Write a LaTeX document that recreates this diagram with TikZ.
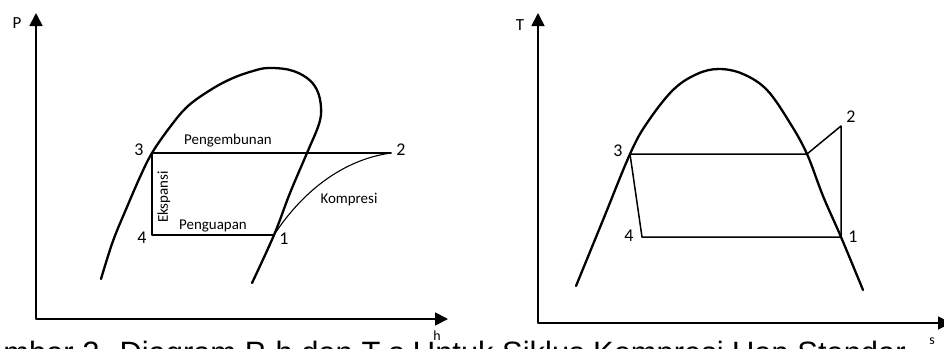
\documentclass[tikz,border=0pt]{standalone}
\usepackage{fontspec}
\setmainfont{Carlito}
\newfontfamily\capfont{Liberation Sans}
\usetikzlibrary{arrows.meta}

\begin{document}
\begin{tikzpicture}[x=1bp,y=-1bp,line cap=round,line join=round,
  dome/.style={line width=2.3bp},
  proc/.style={line width=1.5bp},
  axis/.style={line width=1.7bp,line cap=butt,
    {Triangle[length=13bp,width=13bp]}-{Triangle[length=13bp,width=13bp]}},
  num/.style={font=\fontsize{18}{20}\selectfont,inner sep=1pt},
  lbl/.style={font=\fontsize{15}{17}\selectfont,inner sep=1pt}]
  \useasboundingbox (0,0) rectangle (944,348);
  \clip (0,0) rectangle (944,348);
  % P-h diagram
  \coordinate (pO) at (36,319);
  \coordinate (pP) at (36,13);
  \coordinate (pH) at (448,319);
  \draw[axis] (pP) -- (pO) -- (pH);
  \coordinate (p1) at (274,235);
  \coordinate (p2) at (391,153);
  \coordinate (p3) at (152,153);
  \coordinate (p4) at (152,235);
  \draw[dome] plot[smooth,tension=0.6] coordinates {(101,279) (113,241) (127,207) (140,177) (p3)
    (170,127) (188,106) (212,89) (233,78) (253,71) (268,68) (290,70) (307,78) (317,90)
    (321,107) (319,124) (307,153) (290,193) (p1) (252,283)};
  \draw[proc] (p2) -- (p3) -- (p4) -- (p1);
  \draw[line width=1.1bp] (p1) .. controls (300,195) and (340,160) .. (p2);
  \node[num] (pl1) at (284,239) {1};
  \node[num] (pl2) at (401,150) {2};
  \node[num] (pl3) at (139,150) {3};
  \node[num] (pl4) at (142,238) {4};
  \node[lbl] (pengembunan) at (228,141) {Pengembunan};
  \node[lbl] (penguapan) at (213,226) {Penguapan};
  \node[lbl,rotate=90] (ekspansi) at (164,197) {Ekspansi};
  \node[lbl] (kompresi) at (349,200) {Kompresi};
  \node[lbl,font=\fontsize{17}{19}\selectfont] (lp) at (17,23) {P};
  \node[lbl,font=\fontsize{14}{16}\selectfont] (lh) at (437,336) {h};
  % T-s diagram
  \coordinate (tO) at (538,323);
  \coordinate (tT) at (538,13);
  \coordinate (tS) at (951,323);
  \draw[axis] (tT) -- (tO) -- (tS);
  \coordinate (t1) at (841,237);
  \coordinate (t2) at (841,126);
  \coordinate (t3) at (630,154);
  \coordinate (t4) at (642,237);
  \coordinate (tv) at (807,154);
  \draw[dome] plot[smooth,tension=0.6] coordinates {(576,286) (603,220) (t3) (647,123)
    (673,90) (697,74) (719,69) (743,74) (767,90) (790,123) (tv) (823,196) (t1) (863,290)};
  \draw[proc] (t3) -- (tv) -- (t2) -- (t1) -- (t4) -- cycle;
  \node[num] (tl1) at (853,237) {1};
  \node[num] (tl2) at (851,117) {2};
  \node[num] (tl3) at (618,151) {3};
  \node[num] (tl4) at (629,236) {4};
  \node[lbl,font=\fontsize{17}{19}\selectfont] (lt) at (520,25) {T};
  \node[lbl,font=\fontsize{14}{16}\selectfont] (ls) at (932,341) {s};
  % caption, cut by the lower edge
  \node[font=\capfont\fontsize{31}{36}\selectfont,anchor=base west,inner sep=0pt] (cap)
    at (-38,363) {Gambar 2. Diagram P-h dan T-s Untuk Siklus Kompresi Uap Standar};
\end{tikzpicture}
\end{document}
